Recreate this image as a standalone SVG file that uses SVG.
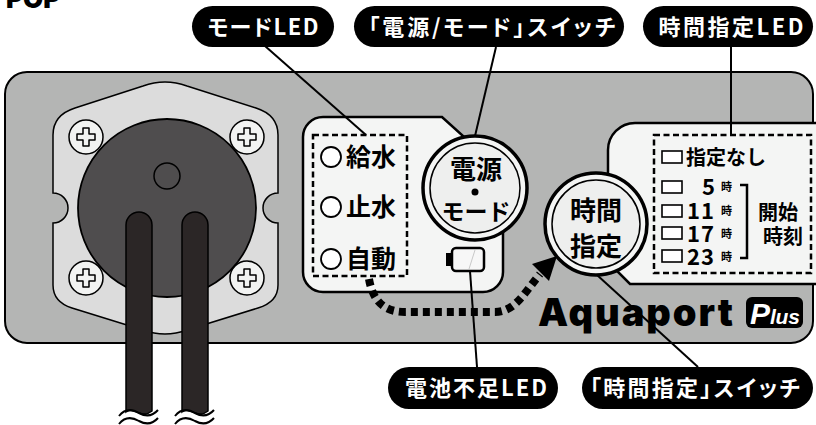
<svg xmlns="http://www.w3.org/2000/svg" width="816" height="425" viewBox="0 0 816 425">
  <style>
    .jp { font-family: 'Noto Sans CJK JP', 'Noto Sans', sans-serif; font-weight: 700; }
    .ln { fill: none; stroke: #000; stroke-width: 2; }
    .pill rect { fill: #000; }
    .pill text { fill: #fff; font-size: 22px; text-anchor: middle; font-feature-settings: "palt"; }
    .screw circle, .screw use { fill: #f2f3f2; stroke: #000; stroke-width: 1.5; stroke-linejoin: round; }
    .dash { fill: none; stroke: #000; stroke-width: 2.5; stroke-dasharray: 6 3.5; }
    .led { fill: #fff; stroke: #000; stroke-width: 1.8; }
    .box { fill: #fff; stroke: #000; stroke-width: 1.6; }
    .tube { fill: #2b2626; stroke: #000; stroke-width: 1.5; }
  </style>
  <defs>
    <path id="plus" d="M -3 -9 h 6 v 6 h 6 v 6 h -6 v 6 h -6 v -6 h -6 v -6 h 6 z"/>
  </defs>

  <rect width="816" height="425" fill="#fff"/>
  <text x="6" y="8" style="font-family:Inter,'Liberation Sans',sans-serif;font-weight:900;font-size:26px" fill="#000">POP</text>

  <!-- unit body -->
  <g id="body">
    <rect x="5" y="72" width="808" height="271" rx="22" fill="#b4b5b4" stroke="#000" stroke-width="2"/>
  </g>

  <!-- pump head -->
  <g id="pump">
    <path d="M 143 86 Q 165 78 187 86 L 256 108 Q 278 115 278 135 L 278 193 A 15 15 0 0 0 278 223 L 278 285 Q 278 302 258 308 L 187 330 Q 165 338 143 330 L 72 308 Q 53 302 53 285 L 53 223 A 15 15 0 0 0 53 193 L 53 135 Q 53 115 75 108 Z" fill="#dcdcdc" stroke="#000" stroke-width="1.5"/>
    <g class="screw">
      <circle cx="86" cy="137" r="17"/><use href="#plus" x="86" y="137"/>
      <circle cx="247" cy="137" r="17"/><use href="#plus" x="247" y="137"/>
      <circle cx="86" cy="278" r="17"/><use href="#plus" x="86" y="278"/>
      <circle cx="247" cy="278" r="17"/><use href="#plus" x="247" y="278"/>
    </g>
    <circle cx="167" cy="208" r="89" fill="#4f4d4e" stroke="#000" stroke-width="1.8"/>
    <circle cx="167" cy="176" r="13" fill="#4f4d4e" stroke="#000" stroke-width="1.5"/>
    <path class="tube" d="M 126 225 A 13 13 0 0 1 152 225 L 152 411 Q 146 416 139 413 Q 131 408 126 412 Z"/>
    <path class="tube" d="M 182 225 A 13 13 0 0 1 208 225 L 208 411 Q 202 416 195 413 Q 187 408 182 412 Z"/>
    <path class="ln" stroke-width="1.5" d="M 119 416 Q 127 406 139 413 Q 150 419 158 410 M 119 424 Q 127 414 139 421 Q 150 427 158 418"/>
    <path class="ln" stroke-width="1.5" d="M 175 416 Q 183 406 195 413 Q 206 419 214 410 M 175 424 Q 183 414 195 421 Q 206 427 214 418"/>
  </g>

  <!-- control panels -->
  <g id="panel-left">
    <path d="M 303 137 A 20 20 0 0 1 323 117 L 442 117 L 503 172 L 503 272 A 20 20 0 0 1 483 292 L 323 292 A 20 20 0 0 1 303 272 Z" fill="#f4f5f4" stroke="#000" stroke-width="2.5"/>
  </g>
  <g id="panel-right">
    <path d="M 608 150 A 27 27 0 0 1 635 123 L 830 123 L 830 284 L 630 284 L 608 262 Z" fill="#f4f5f4" stroke="#000" stroke-width="2.5"/>
  </g>

  <!-- connectors -->
  <g id="connectors">
    <path class="ln" d="M 265 46 L 366 135"/>
    <path class="ln" d="M 496 47 L 475 136"/>
    <path class="ln" d="M 731 47 L 731 135"/>
    <path class="ln" d="M 470 271 L 477 367"/>
    <path class="ln" d="M 597 275 L 698 367"/>
    <path d="M 369 279 C 373 302 385 312 405 312 L 495 312 C 515 312 525 292 540 274" fill="none" stroke="#000" stroke-width="8" stroke-dasharray="7 5"/>
    <polygon points="557,256 532,264 549,281" fill="#000"/>
  </g>

  <!-- mode LEDs -->
  <g id="mode-leds" class="jp">
    <rect class="dash" x="313" y="135" width="94" height="141"/>
    <circle class="led" cx="331" cy="157" r="10"/>
    <circle class="led" cx="331" cy="207" r="10"/>
    <circle class="led" cx="331" cy="259" r="10"/>
    <text x="346" y="166" font-size="25">給水</text>
    <text x="346" y="216" font-size="25">止水</text>
    <text x="346" y="268" font-size="25">自動</text>
  </g>

  <!-- power / mode switch -->
  <g id="power-switch" class="jp">
    <circle cx="475" cy="188" r="52" fill="#f4f5f4" stroke="#000" stroke-width="3.5"/>
    <circle cx="475" cy="188" r="45" fill="#eeefee" stroke="#000" stroke-width="1.5"/>
    <text x="476" y="179" font-size="26" text-anchor="middle">電源</text>
    <circle cx="475" cy="192" r="3.5" fill="#000"/>
    <text x="476" y="220" font-size="23" text-anchor="middle">モード</text>
  </g>

  <!-- low battery LED -->
  <g id="battery-led">
    <rect x="446" y="253" width="7" height="13" fill="#000"/>
    <rect x="452" y="248" width="32" height="23" rx="4" fill="#f7f7f7" stroke="#000" stroke-width="2.5"/>
    <path d="M 475 250 L 469 269" stroke="#c8c8c8" stroke-width="1"/>
  </g>

  <!-- timer switch -->
  <g id="timer-switch" class="jp">
    <circle cx="596" cy="224" r="51" fill="#f4f5f4" stroke="#000" stroke-width="3.5"/>
    <circle cx="596" cy="224" r="44" fill="#eeefee" stroke="#000" stroke-width="1.5"/>
    <text x="596" y="220" font-size="26" text-anchor="middle">時間</text>
    <text x="596" y="256" font-size="26" text-anchor="middle">指定</text>
  </g>

  <!-- timer LEDs -->
  <g id="timer-leds" class="jp">
    <rect class="dash" x="654" y="135" width="157" height="138"/>
    <rect class="box" x="662" y="151" width="20" height="12"/>
    <text x="686" y="165" font-size="20">指定なし</text>
    <rect class="box" x="662" y="181" width="20" height="12"/>
    <rect class="box" x="662" y="205" width="20" height="12"/>
    <rect class="box" x="662" y="227" width="20" height="12"/>
    <rect class="box" x="662" y="250" width="20" height="12"/>
    <g font-size="22" text-anchor="end">
      <text x="715" y="195">5</text>
      <text x="715" y="219" letter-spacing="1">11</text>
      <text x="715" y="242" letter-spacing="1">17</text>
      <text x="715" y="265" letter-spacing="1">23</text>
    </g>
    <g font-size="11">
      <text x="721" y="191">時</text>
      <text x="721" y="215">時</text>
      <text x="721" y="238">時</text>
      <text x="721" y="261">時</text>
    </g>
    <path d="M 740 185 L 747 185 L 747 258 L 740 258" fill="none" stroke="#000" stroke-width="2.5"/>
    <text x="758" y="220" font-size="20">開始</text>
    <text x="763" y="244" font-size="20">時刻</text>
  </g>

  <!-- logo -->
  <g id="logo">
    <text x="538" y="326" textLength="195" style="font-family:Inter,Lato,'Liberation Sans',sans-serif;font-weight:900;font-size:38px" fill="#000">Aquaport</text>
    <rect x="746" y="297" width="57" height="31" rx="6" fill="#000"/>
    <text x="750" y="324" textLength="50" fill="#fff" style="font-family:'Liberation Sans',sans-serif;font-weight:700;font-style:italic"><tspan font-size="30">P</tspan><tspan font-size="21">lus</tspan></text>
  </g>

  <!-- labels -->
  <g id="label-mode-led" class="pill jp">
    <rect x="192" y="6" width="142" height="41" rx="20.5"/>
    <text x="263" y="35" textLength="111">モードLED</text>
  </g>
  <g id="label-power-switch" class="pill jp">
    <rect x="354" y="6" width="270" height="41" rx="20.5"/>
    <text x="492" y="35" textLength="247">「電源/モード」スイッチ</text>
  </g>
  <g id="label-timer-led" class="pill jp">
    <rect x="643" y="6" width="170" height="41" rx="20.5"/>
    <text x="731" y="35" textLength="145">時間指定LED</text>
  </g>
  <g id="label-battery-led" class="pill jp">
    <rect x="388" y="367" width="170" height="42" rx="21"/>
    <text x="476" y="396" textLength="142">電池不足LED</text>
  </g>
  <g id="label-timer-switch" class="pill jp">
    <rect x="582" y="367" width="231" height="42" rx="21"/>
    <text x="695" y="396" textLength="210">「時間指定」スイッチ</text>
  </g>
</svg>
